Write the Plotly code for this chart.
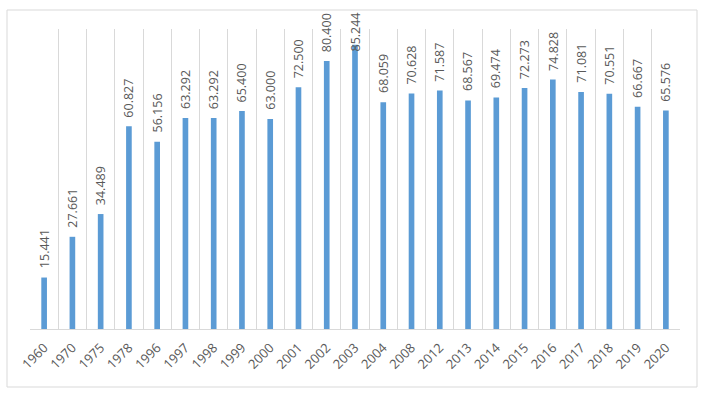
import plotly.graph_objects as go

years = ["1960", "1970", "1975", "1978", "1996", "1997", "1998", "1999", "2000",
         "2001", "2002", "2003", "2004", "2008", "2012", "2013", "2014", "2015",
         "2016", "2017", "2018", "2019", "2020"]
values = [15.441, 27.661, 34.489, 60.827, 56.156, 63.292, 63.292, 65.400, 63.000,
          72.500, 80.400, 85.244, 68.059, 70.628, 71.587, 68.567, 69.474, 72.273,
          74.828, 71.081, 70.551, 66.667, 65.576]
labels = [f"{v:.3f}" for v in values]

W, H = 710, 398
L, R, T, B = 30, 30, 29, 69
pw, ph = W - L - R, H - T - B
label_cap = 80.4  # labels are kept inside the chart area, like the original

fig = go.Figure()
fig.add_trace(go.Bar(
    x=years, y=values,
    marker=dict(color="#5B9BD5", line=dict(width=0)),
    width=0.2, hoverinfo="x+y",
))

for i, (v, t) in enumerate(zip(values, labels)):
    fig.add_annotation(x=i, y=min(v, label_cap), text=t, showarrow=False,
                       textangle=-90, yanchor="bottom", xanchor="center", yshift=7,
                       font=dict(family="Open Sans", size=12.5, color="#595959"))

def px_x(p):
    return (p - L) / pw

def px_y(p):
    return (H - B - p) / ph

fig.add_shape(type="rect", xref="paper", yref="paper",
              x0=px_x(7), x1=px_x(697), y0=px_y(387), y1=px_y(10),
              line=dict(color="#D9D9D9", width=1), fillcolor="rgba(0,0,0,0)", layer="below")

fig.update_layout(
    width=W, height=H,
    margin=dict(l=L, r=R, t=T, b=B),
    paper_bgcolor="white", plot_bgcolor="white",
    showlegend=False,
    font=dict(family="Open Sans", size=12, color="#595959"),
    xaxis=dict(type="category", categoryorder="array", categoryarray=years,
               range=[-0.5, len(years) - 0.5],
               tickson="boundaries", showgrid=True, gridcolor="#D9D9D9",
               gridwidth=1, tickangle=-45, ticks="", showline=True, linecolor="#D9D9D9",
               ticklabelstandoff=5,
               tickfont=dict(family="Open Sans", size=13, color="#595959"), zeroline=False,
               automargin=False),
    yaxis=dict(range=[0, 90], showgrid=False, showticklabels=False, zeroline=False,
               showline=False, ticks="", automargin=False),
)

fig.write_html("out.html", config={"displayModeBar": False},
               post_script="document.body.style.margin='0';")
